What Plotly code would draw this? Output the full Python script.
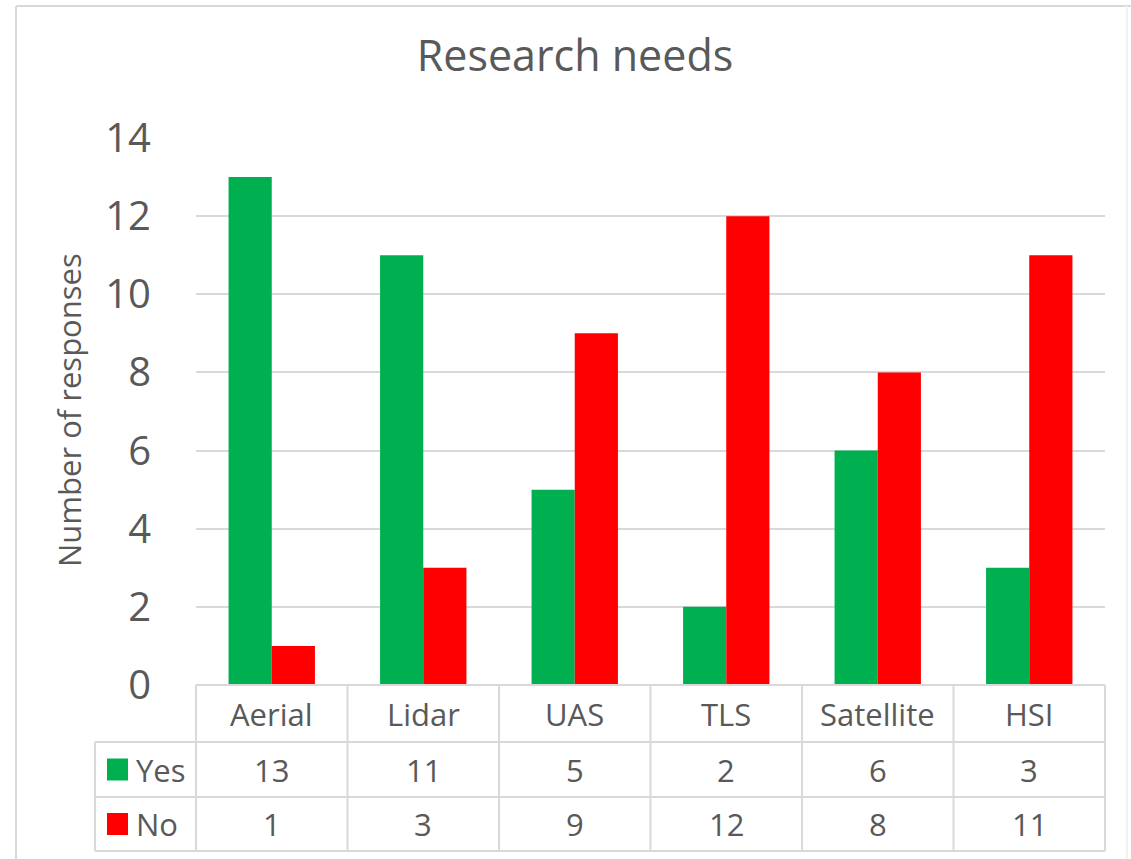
import plotly.graph_objects as go

# ---------------- data ----------------
categories = ["Aerial", "Lidar", "UAS", "TLS", "Satellite", "HSI"]
yes_values = [13, 11, 5, 2, 6, 3]
no_values = [1, 3, 9, 12, 8, 11]
series_names = ["Yes", "No"]
series_colors = ["#00B050", "#FF0000"]
y_tick_values = [0, 2, 4, 6, 8, 10, 12, 14]
title_text = "Research needs"
y_title_text = "Number of responses"

# ---------------- geometry (pixels) ----------------
W, H = 1131, 859
PL, PR, PT, PB = 196, 1105, 138, 685          # plot area
TXT = "#595959"
GRID = "#D9D9D9"
FONT = "Open Sans"


def px(x):
    return (x - PL) / (PR - PL)


def py(y):
    return (PB - y) / (PB - PT)


fig = go.Figure()
for name, vals, col in zip(series_names, [yes_values, no_values], series_colors):
    fig.add_trace(go.Bar(x=categories, y=vals, name=name,
                         marker=dict(color=col, line=dict(width=0)),
                         hoverinfo="skip"))

shapes = []
annotations = []

# table rows (pixel y of lines)
row_lines = [685, 742, 797, 851]
table_left = 95
ncat = len(categories)


def hline(x0, x1, y, color=GRID):
    shapes.append(dict(type="line", xref="paper", yref="paper",
                       x0=px(x0), x1=px(x1), y0=py(y), y1=py(y),
                       line=dict(color=color, width=2), layer="above"))


def vline(x, y0, y1, color=GRID):
    shapes.append(dict(type="line", xref="paper", yref="paper",
                       x0=px(x), x1=px(x), y0=py(y0), y1=py(y1),
                       line=dict(color=color, width=2), layer="above"))


hline(PL, PR, row_lines[0])
for y in row_lines[1:]:
    hline(table_left, PR, y)
vline(table_left, row_lines[1], row_lines[-1])
for i in range(ncat + 1):
    xpix = PL + (PR - PL) * i / ncat
    vline(xpix, row_lines[0], row_lines[-1])

TABLE_SIZE = 31

# category labels
cat_center = (row_lines[0] + row_lines[1]) / 2
for c in categories:
    annotations.append(dict(x=c, xref="x", y=py(cat_center), yref="paper",
                            text=c, showarrow=False, yanchor="middle",
                            font=dict(family=FONT, size=TABLE_SIZE, color=TXT)))

# value rows + legend keys
for r, (name, vals, col) in enumerate(zip(series_names, [yes_values, no_values], series_colors)):
    yc = (row_lines[r + 1] + row_lines[r + 2]) / 2
    for c, v in zip(categories, vals):
        annotations.append(dict(x=c, xref="x", y=py(yc), yref="paper",
                                text=str(v), showarrow=False, yanchor="middle",
                                font=dict(family=FONT, size=TABLE_SIZE, color=TXT)))
    shapes.append(dict(type="rect", xref="paper", yref="paper",
                       x0=px(107), x1=px(128), y0=py(yc - 11), y1=py(yc + 11),
                       fillcolor=col, line=dict(width=0), layer="above"))
    annotations.append(dict(x=px(134), xref="paper", y=py(yc), yref="paper",
                            text=name, showarrow=False, xanchor="left", yanchor="middle",
                            font=dict(family=FONT, size=TABLE_SIZE, color=TXT)))

# y-axis title
annotations.append(dict(x=px(69), xref="paper", y=py(410), yref="paper",
                        text=y_title_text, textangle=-90, showarrow=False,
                        xanchor="center", yanchor="middle",
                        font=dict(family=FONT, size=31, color=TXT)))

# outer chart frame (top and left edges visible, faint right edge)
hline(16, W, 6)
vline(16, 6, H)
vline(1127, 6, H, color="#F2F2F2")

fig.update_layout(
    width=W, height=H,
    margin=dict(l=PL, r=W - PR, t=PT, b=H - PB, pad=0),
    paper_bgcolor="white", plot_bgcolor="white",
    barmode="group", bargap=0.43, bargroupgap=0,
    showlegend=False,
    title=dict(text=title_text, x=575 / W, xref="container", xanchor="center",
               y=1 - 56 / H, yref="container", yanchor="middle",
               font=dict(family=FONT, size=43, color=TXT)),
    xaxis=dict(showticklabels=False, showgrid=False, zeroline=False,
               showline=False, ticks="", range=[-0.5, ncat - 0.5]),
    yaxis=dict(range=[0, 14], tickvals=y_tick_values, showgrid=True,
               gridcolor=GRID, gridwidth=2, zeroline=False, showline=False,
               ticks="", ticklabelstandoff=44,
               tickfont=dict(family=FONT, size=40, color=TXT)),
    shapes=shapes, annotations=annotations,
)

fig.write_html("out.html",
               config={"displayModeBar": False},
               post_script="document.body.style.margin='0';document.body.style.overflow='hidden';")
